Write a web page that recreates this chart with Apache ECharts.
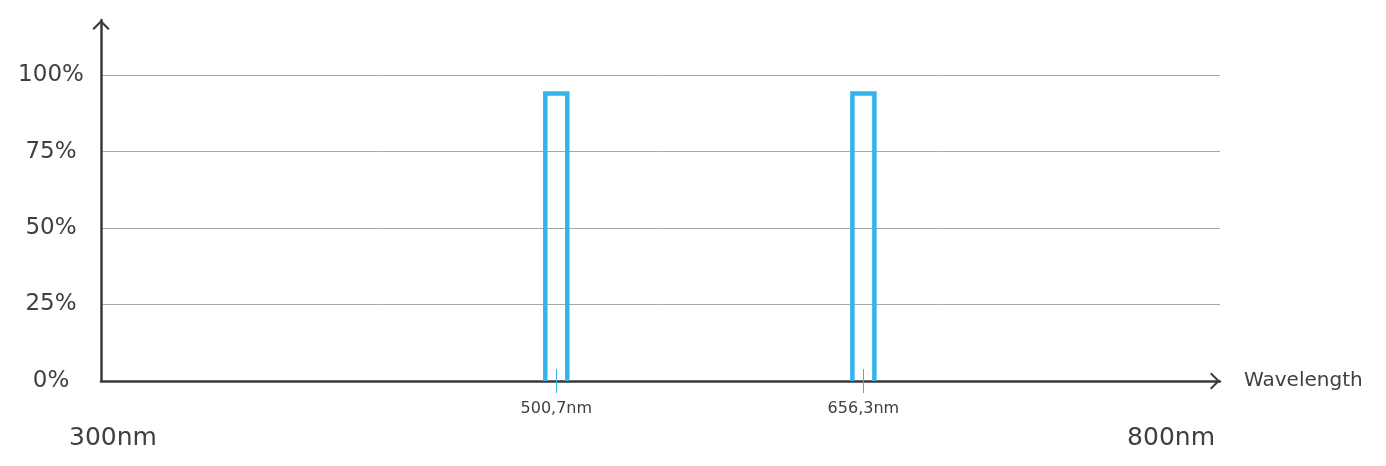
<!DOCTYPE html>
<html>
<head>
<meta charset="utf-8">
<script src="https://cdn.jsdelivr.net/npm/echarts@6/dist/echarts.min.js"></script>
<style>
    html, body { margin: 0; padding: 0; background: #fff; }
    #chart { width: 1386px; height: 466px; }
</style>
</head>
<body>
<div id="chart"></div>
<script>
// Emission lines (nm) and their relative intensity (%)
const lineWavelengths = [500.7, 656.3];
const lineIntensity = [94, 94];
const lineLabels = ['500,7nm', '656,3nm'];

// Schematic range of the wavelength axis
const rangeValues = [270, 837];
const rangeLabels = ['300nm', '800nm'];

const percentTicks = [0, 25, 50, 75, 100];

const font = '"DejaVu Sans", sans-serif';
const ink = '#404040';
const blue = '#33b5eb';
const axisColor = '#3a3a3a';

// open chevron, pointing outward along the axis
const chevron = 'path://M0,10 L10,0 L20,10 L18.2,11.6 L10,3.4 L1.8,11.6 Z';

const chart = echarts.init(document.getElementById('chart'), null, { renderer: 'canvas' });

const sharedX = {
    type: 'value',
    position: 'bottom',
    min: rangeValues[0],
    max: rangeValues[1],
    splitLine: { show: false },
};

chart.setOption({
    backgroundColor: '#fff',
    animation: false,
    grid: { left: 101, right: 166, top: 20, bottom: 85, outerBoundsMode: 'none' },
    xAxis: [
        {
            ...sharedX,
            name: 'Wavelength',
            nameLocation: 'end',
            nameGap: 24,
            nameTextStyle: { color: ink, fontSize: 20, fontFamily: font, verticalAlign: 'middle' },
            axisLine: {
                lineStyle: { color: axisColor, width: 2.5 },
                symbol: ['none', chevron],
                symbolSize: [18, 10],
                symbolOffset: [0, -5],
            },
            axisTick: {
                show: true,
                length: 12,
                customValues: lineWavelengths,
                lineStyle: { color: blue, width: 1 },
            },
            axisLabel: {
                customValues: lineWavelengths,
                formatter: (v) => lineLabels[lineWavelengths.indexOf(v)],
                color: ink,
                fontSize: 16,
                fontFamily: font,
                margin: 20,
            },
        },
        {
            // upper half of the line markers, crossing the axis
            ...sharedX,
            axisLine: { show: false },
            axisTick: {
                show: true,
                inside: true,
                length: 12,
                customValues: lineWavelengths,
                lineStyle: { color: blue, width: 1 },
            },
            axisLabel: { show: false },
        },
        {
            ...sharedX,
            axisLine: { show: false },
            axisTick: { show: false },
            axisLabel: {
                customValues: rangeValues,
                formatter: (v) => (v === rangeValues[0] ? '{lo|' : '{hi|') + rangeLabels[rangeValues.indexOf(v)] + '}',
                alignMinLabel: 'center',
                alignMaxLabel: 'right',
                margin: 45,
                rich: {
                    lo: { color: ink, fontSize: 25, fontFamily: font, padding: [0, 0, 0, 24] },
                    hi: { color: ink, fontSize: 25, fontFamily: font, padding: [0, 5, 0, 0] },
                },
            },
        },
    ],
    yAxis: {
        type: 'value',
        min: 0,
        max: 118,
        interval: 25,
        axisLine: {
            show: true,
            lineStyle: { color: axisColor, width: 2.5 },
            symbol: ['none', chevron],
            symbolSize: [18, 10],
            symbolOffset: [0, -5],
        },
        axisTick: { show: false },
        axisLabel: {
            customValues: percentTicks,
            formatter: (v) => v + '%',
            color: ink,
            fontSize: 23,
            fontFamily: font,
            align: 'center',
            margin: 50,
        },
        splitLine: {
            show: true,
            showMinLine: false,
            showMaxLine: false,
            lineStyle: { color: '#a8a8a8', width: 1 },
        },
    },
    series: [
        {
            type: 'custom',
            xAxisIndex: 0,
            data: lineWavelengths.map((w, i) => [w, lineIntensity[i]]),
            renderItem: (params, api) => {
                const base = api.coord([api.value(0), 0]);
                const top = api.coord([api.value(0), api.value(1)]);
                const half = 11;
                return {
                    type: 'polyline',
                    shape: {
                        points: [
                            [base[0] - half, base[1]],
                            [base[0] - half, top[1]],
                            [base[0] + half, top[1]],
                            [base[0] + half, base[1]],
                        ],
                    },
                    style: { fill: 'none', stroke: blue, lineWidth: 4.5 },
                };
            },
        },
    ],
});
</script>
</body>
</html>
